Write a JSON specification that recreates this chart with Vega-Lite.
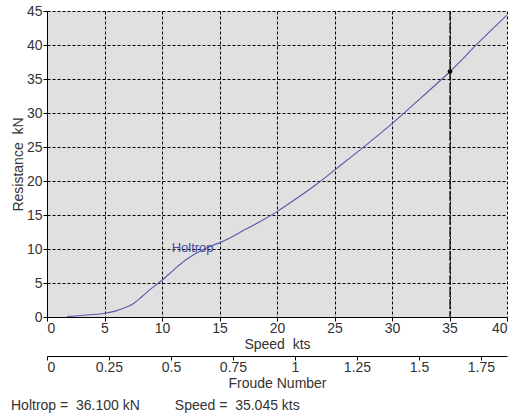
{
  "$schema": "https://vega.github.io/schema/vega-lite/v6.json",
  "width": 460,
  "height": 306,
  "autosize": "none",
  "padding": {"left": 47, "top": 11, "right": 11, "bottom": 97},
  "background": "white",
  "config": {
    "view": {"fill": "#e0e0e0", "stroke": null},
    "font": "Liberation Sans",
    "axis": {
      "labelFont": "Liberation Sans",
      "labelFontSize": 14,
      "labelColor": "#333333",
      "labelOverlap": false,
      "labelBound": false,
      "titleFont": "Liberation Sans",
      "titleFontSize": 14,
      "titleFontWeight": "normal",
      "titleColor": "#333333",
      "domainColor": "black",
      "tickColor": "black",
      "tickSize": 4,
      "gridColor": "black",
      "gridDash": [3, 2],
      "gridOpacity": 1,
      "gridWidth": 1
    }
  },
  "title": {
    "text": "Holtrop =\u00a0 36.100 kN\u00a0\u00a0\u00a0\u00a0\u00a0\u00a0\u00a0\u00a0\u00a0Speed =\u00a0 35.045 kts",
    "orient": "bottom",
    "anchor": "start",
    "frame": "bounds",
    "font": "Liberation Sans",
    "fontSize": 14,
    "fontWeight": "normal",
    "color": "#333333",
    "offset": 9
  },
  "layer": [
    {
      "layer": [
        {
          "data": {"values": [
            {"speed": 1.74, "resistance": 0.05},
            {"speed": 2.5, "resistance": 0.15},
            {"speed": 3.5, "resistance": 0.3},
            {"speed": 5.07, "resistance": 0.54},
            {"speed": 6.0, "resistance": 0.9},
            {"speed": 6.67, "resistance": 1.28},
            {"speed": 7.5, "resistance": 1.95},
            {"speed": 8.2, "resistance": 2.9},
            {"speed": 8.9, "resistance": 3.95},
            {"speed": 10.0, "resistance": 5.4},
            {"speed": 11.0, "resistance": 6.9},
            {"speed": 12.0, "resistance": 8.3},
            {"speed": 13.0, "resistance": 9.4},
            {"speed": 14.5, "resistance": 10.6},
            {"speed": 15.0, "resistance": 10.9},
            {"speed": 17.4, "resistance": 13.0},
            {"speed": 18.5, "resistance": 14.0},
            {"speed": 20.0, "resistance": 15.5},
            {"speed": 21.5, "resistance": 17.2},
            {"speed": 23.5, "resistance": 19.6},
            {"speed": 25.0, "resistance": 21.6},
            {"speed": 27.9, "resistance": 25.5},
            {"speed": 29.9, "resistance": 28.3},
            {"speed": 32.5, "resistance": 32.2},
            {"speed": 35.045, "resistance": 36.1},
            {"speed": 37.5, "resistance": 40.3},
            {"speed": 40.0, "resistance": 44.4}
          ]},
          "mark": {"type": "line", "color": "#5858ac", "strokeWidth": 1.1, "interpolate": "monotone", "clip": true},
          "encoding": {
            "x": {
              "field": "speed", "type": "quantitative",
              "scale": {"domain": [0, 40], "nice": false},
              "axis": {"values": [0, 5, 10, 15, 20, 25, 30, 35, 40], "title": "Speed\u00a0 kts", "labelPadding": 0, "titleY": 27, "titleBaseline": "middle"}
            },
            "y": {
              "field": "resistance", "type": "quantitative",
              "scale": {"domain": [0, 45], "nice": false},
              "axis": {"values": [0, 5, 10, 15, 20, 25, 30, 35, 40, 45], "tickCount": 10, "labelOverlap": false, "labelBound": false, "labelFlush": false, "title": "Resistance\u00a0 kN", "labelPadding": 1, "titleX": -29, "titleY": 153, "titleBaseline": "middle", "titleAlign": "center"}
            }
          }
        },
        {
          "data": {"values": [{"speed": 35.045, "resistance": 36.1}]},
          "mark": {"type": "rule", "color": "black", "strokeWidth": 1.2, "strokeDash": [10, 2]},
          "encoding": {"x": {"field": "speed", "type": "quantitative"}}
        },
        {
          "data": {"values": [{"speed": 35.045, "resistance": 36.1}]},
          "mark": {"type": "point", "filled": true, "color": "black", "size": 22, "opacity": 1},
          "encoding": {
            "x": {"field": "speed", "type": "quantitative"},
            "y": {"field": "resistance", "type": "quantitative"}
          }
        },
        {
          "data": {"values": [{"speed": 10.84, "resistance": 10.2, "label": "Holtrop"}]},
          "mark": {"type": "text", "align": "left", "baseline": "middle", "font": "Liberation Sans", "fontSize": 13, "color": "#4848a0"},
          "encoding": {
            "x": {"field": "speed", "type": "quantitative"},
            "y": {"field": "resistance", "type": "quantitative"},
            "text": {"field": "label"}
          }
        }
      ]
    },
    {
      "data": {"values": [{"fn": 0}, {"fn": 1.855}]},
      "mark": {"type": "point", "opacity": 0},
      "encoding": {
        "x": {
          "field": "fn", "type": "quantitative",
          "scale": {"domain": [0, 1.855], "nice": false},
          "axis": {"orient": "bottom", "offset": 39, "grid": false, "values": [0, 0.25, 0.5, 0.75, 1, 1.25, 1.5, 1.75], "format": ".2~f", "title": "Froude Number", "labelPadding": 0, "titleY": 27, "titleBaseline": "middle"}
        }
      }
    }
  ],
  "resolve": {"scale": {"x": "independent"}, "axis": {"x": "independent"}}
}
